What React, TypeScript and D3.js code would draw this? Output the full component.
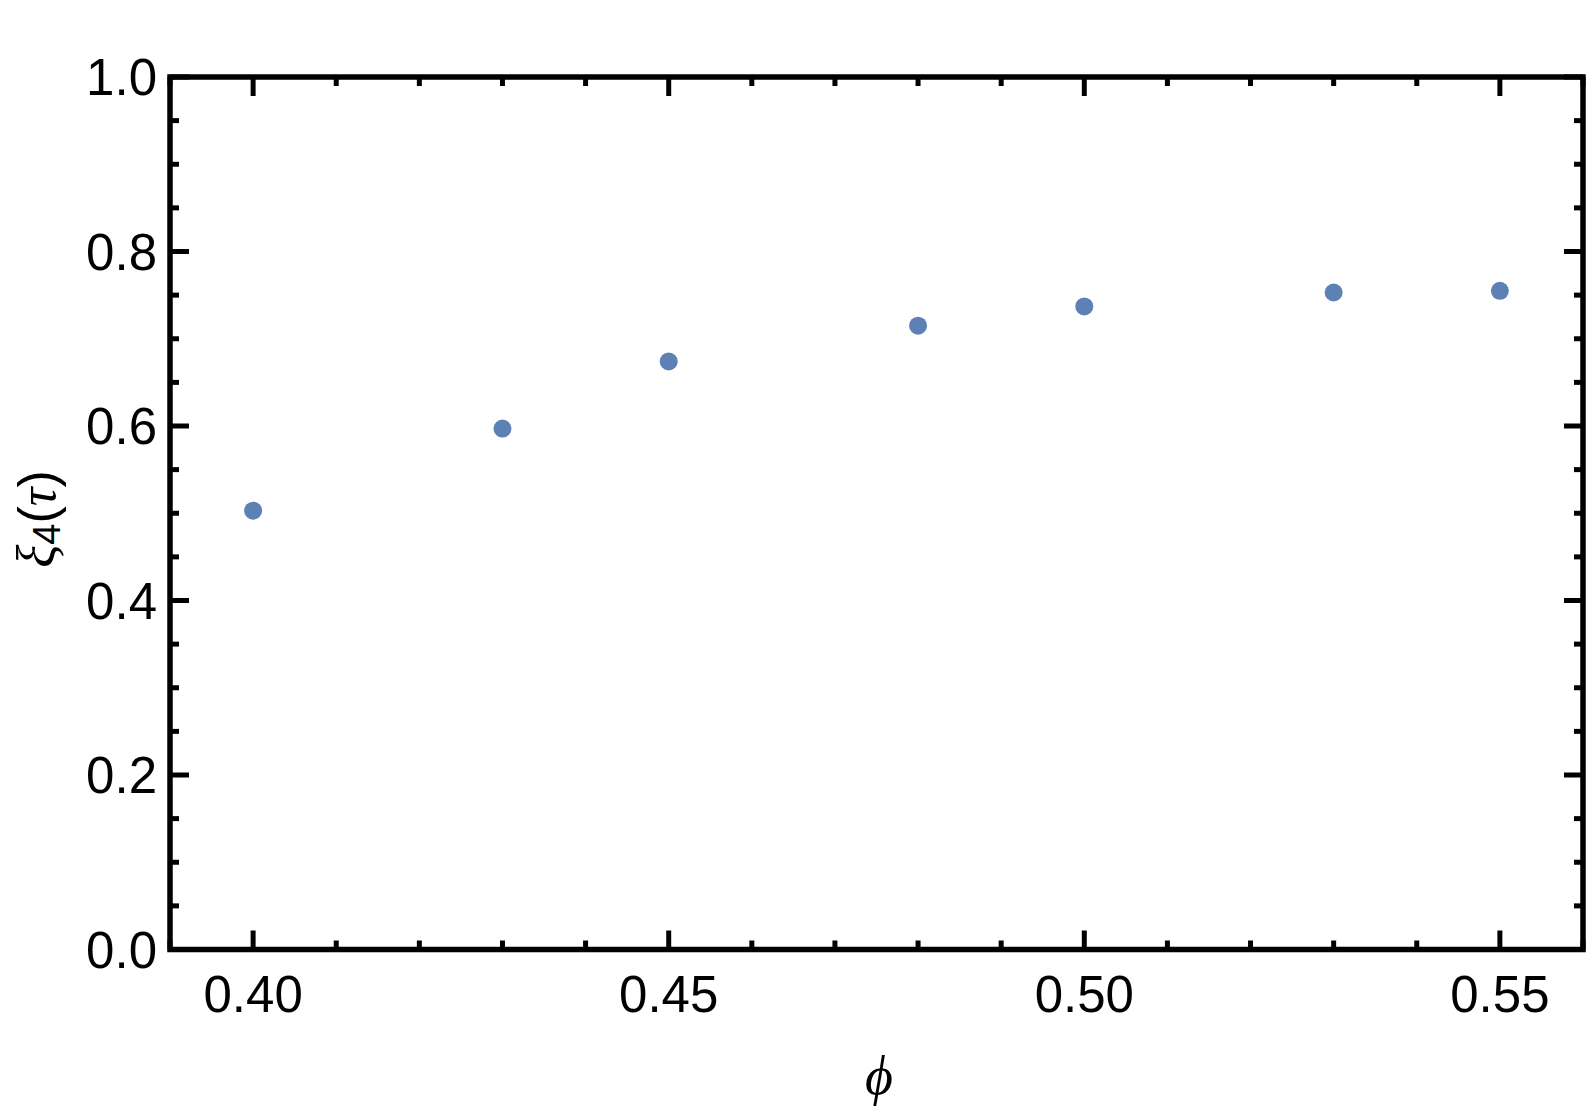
import React from "react";
import * as d3 from "d3";

const phiValues = [0.4, 0.43, 0.45, 0.48, 0.5, 0.53, 0.55];
const xiValues = [0.503, 0.597, 0.674, 0.715, 0.737, 0.753, 0.755];
const xMajorTicks = [0.4, 0.45, 0.5, 0.55];
const xTickLabels = ["0.40", "0.45", "0.50", "0.55"];
const yMajorTicks = [0, 0.2, 0.4, 0.6, 0.8, 1.0];
const yTickLabels = ["0.0", "0.2", "0.4", "0.6", "0.8", "1.0"];

const W = 1592;
const H = 1113;
const LEFT = 170;
const RIGHT = 1583;
const TOP = 77;
const BOTTOM = 949.5;

export default function App() {
  const x = d3.scaleLinear().domain([0.39, 0.56]).range([LEFT, RIGHT]);
  const y = d3.scaleLinear().domain([0, 1]).range([BOTTOM, TOP]);

  const xMinor = d3.range(39, 57).map((v) => v / 100).filter((v) => !xMajorTicks.some((m) => Math.abs(m - v) < 1e-9));
  const yMinor = d3.range(0, 21).map((v) => v / 20).filter((v) => !yMajorTicks.some((m) => Math.abs(m - v) < 1e-9));

  const majorLen = 19;
  const minorLen = 9;
  const font = "'Liberation Sans', Arial, Helvetica, sans-serif";
  const serif = "'Liberation Serif', 'Times New Roman', 'DejaVu Serif', serif";

  return (
    <svg width={W} height={H} style={{ position: "absolute", left: 0, top: 0, display: "block", background: "#fff" }}>
      <rect x={0} y={0} width={W} height={H} fill="#fff" />
      {/* ticks */}
      <g stroke="#000" strokeWidth={5}>
        {xMajorTicks.map((v) => (
          <g key={"xm" + v}>
            <line x1={x(v)} x2={x(v)} y1={BOTTOM} y2={BOTTOM - majorLen} />
            <line x1={x(v)} x2={x(v)} y1={TOP} y2={TOP + majorLen} />
          </g>
        ))}
        {xMinor.map((v) => (
          <g key={"xn" + v}>
            <line x1={x(v)} x2={x(v)} y1={BOTTOM} y2={BOTTOM - minorLen} />
            <line x1={x(v)} x2={x(v)} y1={TOP} y2={TOP + minorLen} />
          </g>
        ))}
        {yMajorTicks.map((v) => (
          <g key={"ym" + v}>
            <line x1={LEFT} x2={LEFT + majorLen} y1={y(v)} y2={y(v)} />
            <line x1={RIGHT} x2={RIGHT - majorLen} y1={y(v)} y2={y(v)} />
          </g>
        ))}
        {yMinor.map((v) => (
          <g key={"yn" + v}>
            <line x1={LEFT} x2={LEFT + minorLen} y1={y(v)} y2={y(v)} />
            <line x1={RIGHT} x2={RIGHT - minorLen} y1={y(v)} y2={y(v)} />
          </g>
        ))}
      </g>
      {/* frame */}
      <rect x={LEFT} y={TOP} width={RIGHT - LEFT} height={BOTTOM - TOP} fill="none" stroke="#000" strokeWidth={5.5} />
      {/* tick labels */}
      <g fontFamily={font} fontSize={51} fill="#000">
        {xMajorTicks.map((v, i) => (
          <text key={"xl" + v} x={x(v)} y={1012} textAnchor="middle">
            {xTickLabels[i]}
          </text>
        ))}
        {yMajorTicks.map((v, i) => (
          <text key={"yl" + v} x={157} y={y(v) + 18} textAnchor="end">
            {yTickLabels[i]}
          </text>
        ))}
      </g>
      {/* points */}
      <g fill="#5E81B5">
        {phiValues.map((p, i) => (
          <circle key={"pt" + i} cx={x(p)} cy={y(xiValues[i])} r={9} />
        ))}
      </g>
      {/* axis labels */}
      <text x={879} y={1094} textAnchor="middle" fontFamily={serif} fontStyle="italic" fontSize={54} fill="#000">
        ϕ
      </text>
      <text transform="translate(55,519) rotate(-90)" textAnchor="middle" fontFamily={font} fontSize={52} fill="#000">
        <tspan fontFamily={serif} fontStyle="italic" fontSize={54}>ξ</tspan>
        <tspan fontSize={38} dy={5}>4</tspan>
        <tspan dy={-5}>(</tspan>
        <tspan fontFamily={serif} fontStyle="italic">τ</tspan>
        <tspan>)</tspan>
      </text>
    </svg>
  );
}
